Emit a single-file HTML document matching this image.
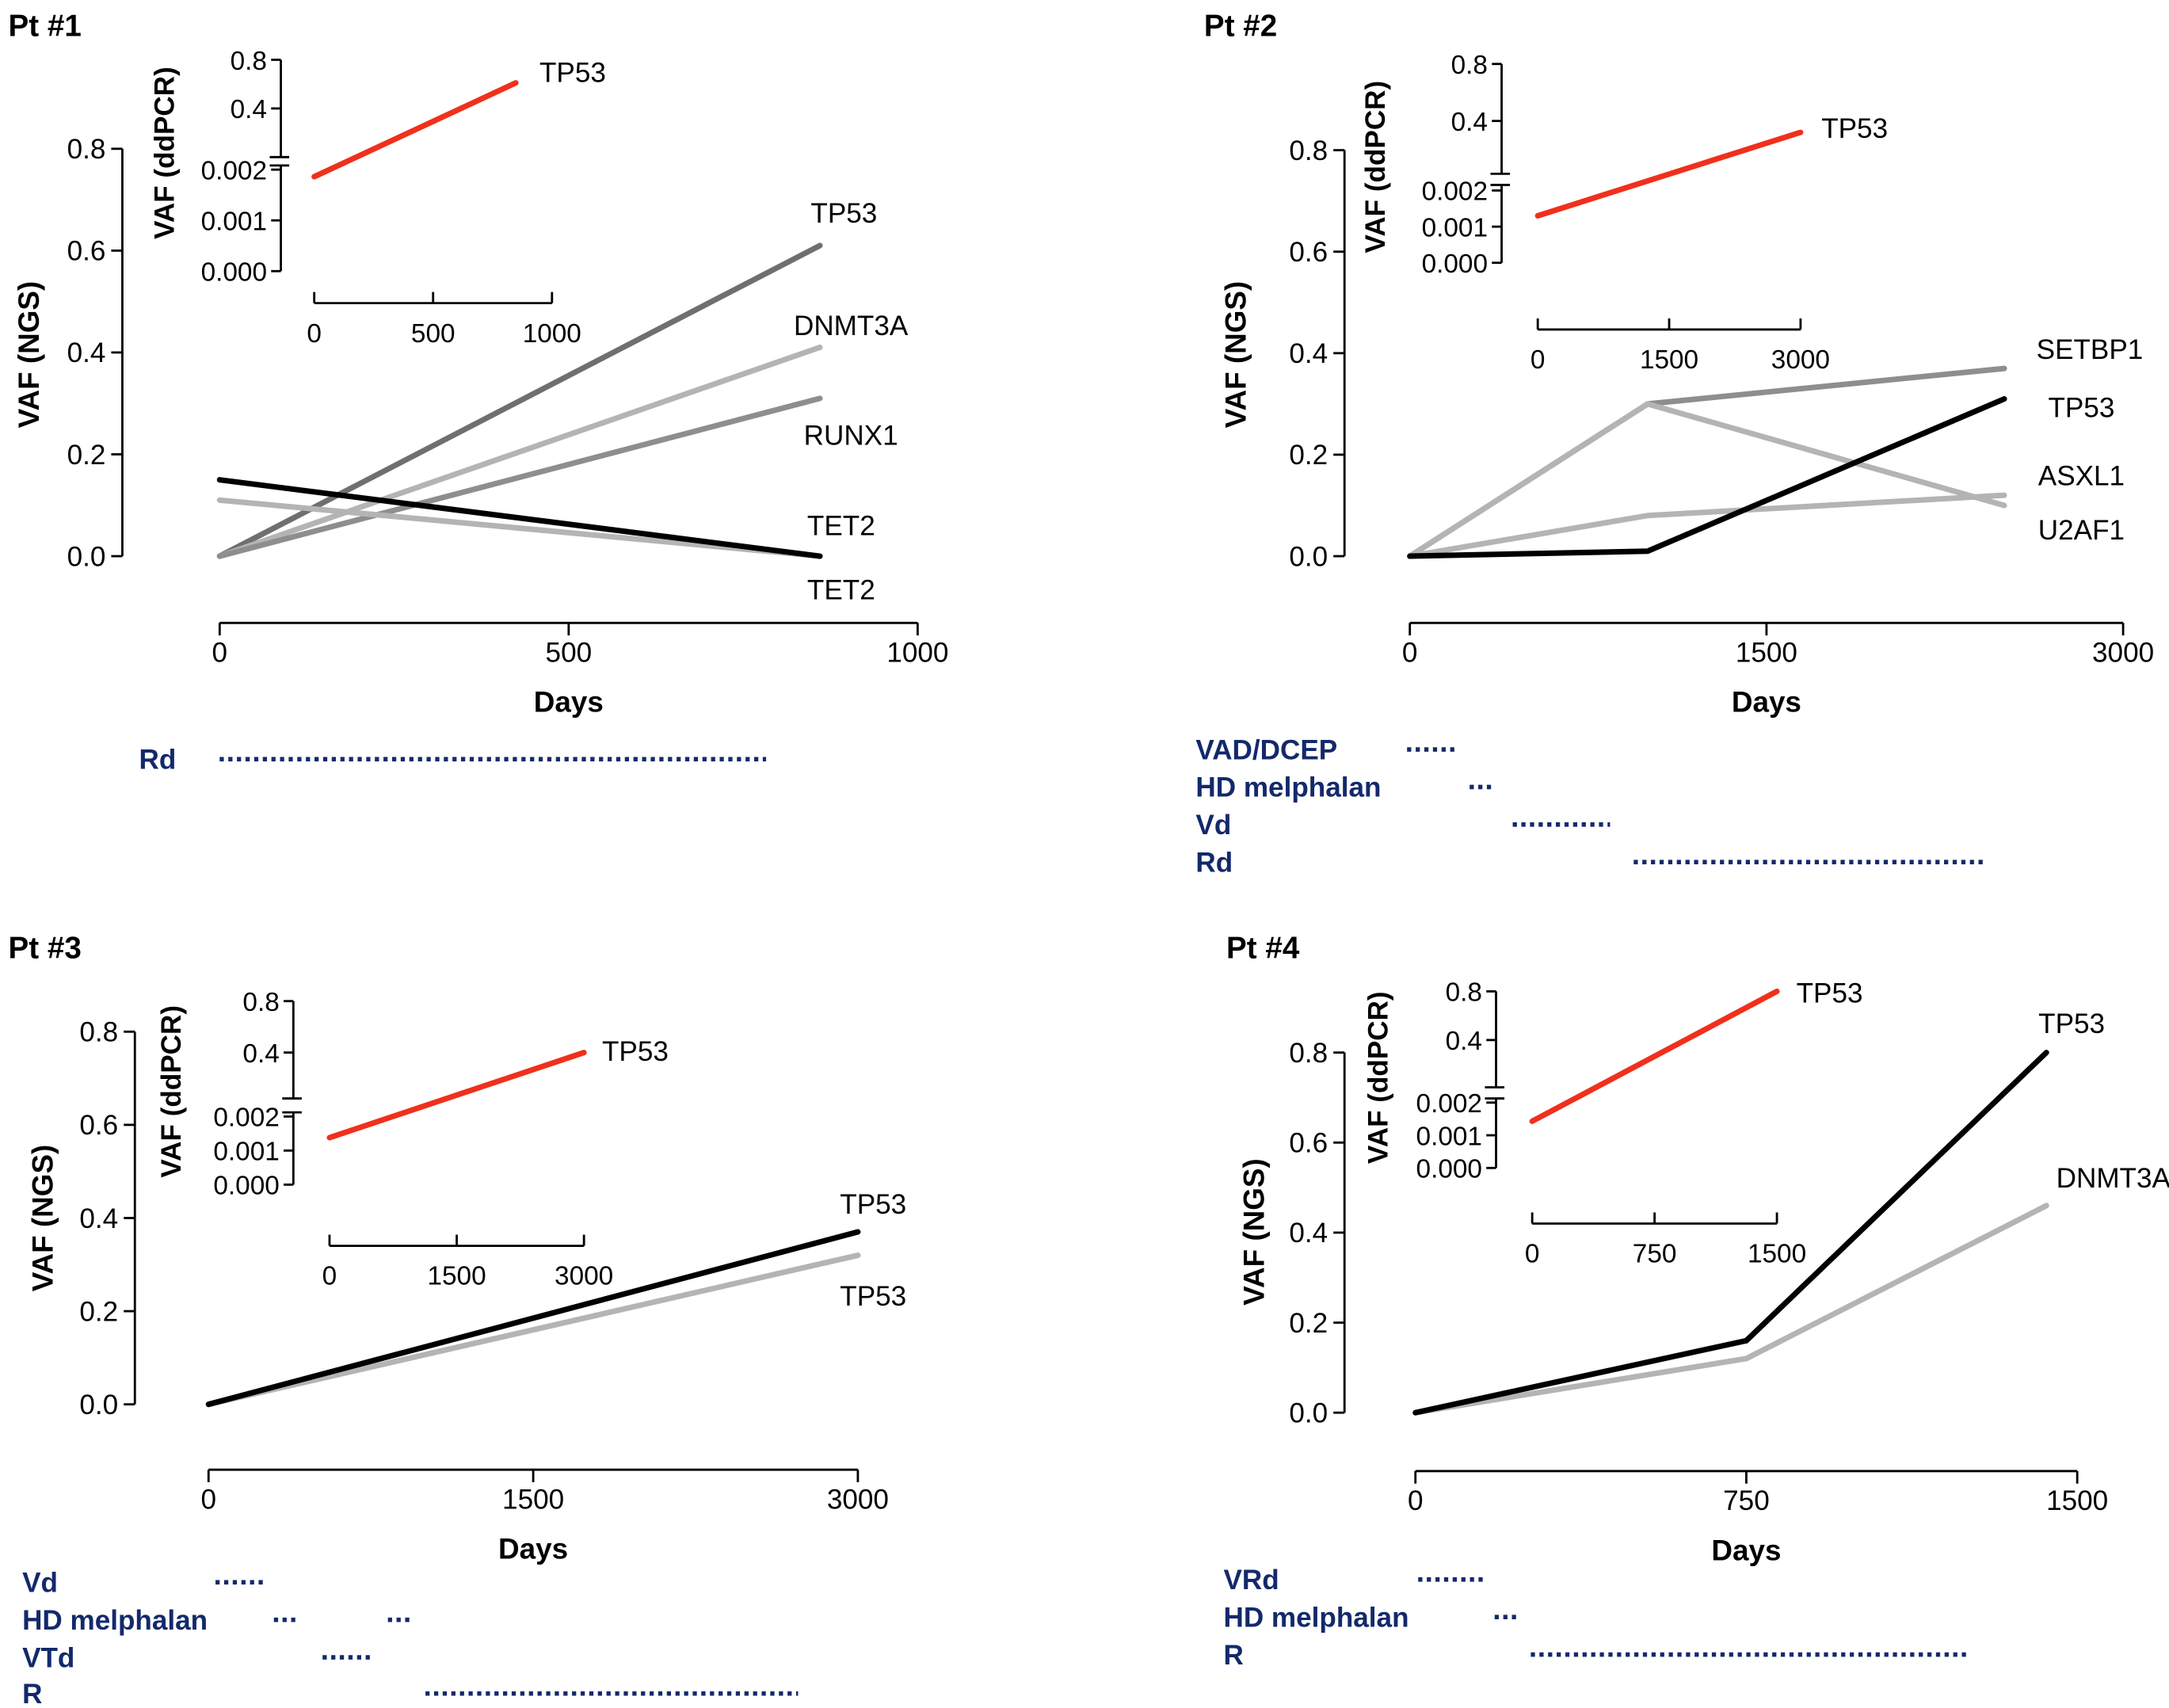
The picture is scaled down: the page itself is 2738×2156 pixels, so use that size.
<!DOCTYPE html>
<html><head><meta charset="utf-8">
<style>
html,body{margin:0;padding:0;background:#fff;}
svg{display:block;}
text{font-family:"Liberation Sans",Arial,sans-serif;}
</style></head>
<body>
<svg id="fig" width="2738" height="2156" viewBox="0 0 1560 1228.4" preserveAspectRatio="none" xmlns="http://www.w3.org/2000/svg"></svg>
<script>
// ---- Data ----
const p1Days = [0, 860];
const p1TP53 = [0, 0.61];
const p1DNMT3A = [0, 0.41];
const p1RUNX1 = [0, 0.31];
const p1TET2a = [0.15, 0.0];
const p1TET2b = [0.11, 0.0];
const p1InsetDays = [0, 848];
const p1InsetTP53 = [0.00186, 0.61];

const p2Days = [0, 1000, 2500];
const p2SETBP1 = [0, 0.30, 0.37];
const p2ASXL1 = [0, 0.30, 0.10];
const p2U2AF1 = [0, 0.08, 0.12];
const p2TP53 = [0, 0.01, 0.31];
const p2InsetDays = [0, 3000];
const p2InsetTP53 = [0.0013, 0.32];

const p3Days = [0, 3000];
const p3TP53a = [0, 0.37];
const p3TP53b = [0, 0.32];
const p3InsetDays = [0, 3000];
const p3InsetTP53 = [0.00138, 0.40];

const p4Days = [0, 750, 1430];
const p4TP53 = [0, 0.16, 0.80];
const p4DNMT3A = [0, 0.12, 0.46];
const p4InsetDays = [0, 1500];
const p4InsetTP53 = [0.00143, 0.80];

const yTicks = [0, 0.2, 0.4, 0.6, 0.8];
const yTickLabels = ["0.0", "0.2", "0.4", "0.6", "0.8"];
const insetLowTicks = [0, 0.001, 0.002];
const insetLowLabels = ["0.000", "0.001", "0.002"];
const insetHighTicks = [0.4, 0.8];
const insetHighLabels = ["0.4", "0.8"];

const NS = "http://www.w3.org/2000/svg";
const svg = document.getElementById("fig");
function el(tag, attrs, parent) {
  const e = document.createElementNS(NS, tag);
  for (const k in attrs) e.setAttribute(k, attrs[k]);
  (parent || svg).appendChild(e);
  return e;
}
function txt(s, x, y, opts, parent) {
  const t = el("text", {x: x, y: y, "font-size": opts.size || 20, "text-anchor": opts.anchor || "start", fill: opts.fill || "#000", "font-weight": opts.bold ? "bold" : "normal"}, parent);
  if (opts.rot) t.setAttribute("transform", "rotate(-90 " + x + " " + y + ")");
  t.textContent = s;
  return t;
}
function line(x1, y1, x2, y2, parent, w) {
  return el("line", {x1: x1, y1: y1, x2: x2, y2: y2, stroke: "#000", "stroke-width": w || 1.6}, parent);
}

function panel(cfg) {
  const g = el("g", {});
  
  
  const t = txt(cfg.title, cfg.titleX, cfg.titleY, {bold: true, size: 22}, g);
  
  
  const X = d => cfg.x0 + (d / cfg.xMax) * (cfg.x1 - cfg.x0);
  const Y = v => cfg.y0 + (v / 0.8) * (cfg.y08 - cfg.y0);
  const ya = el("g", {}, g);
  
  
  line(cfg.yax, Y(0), cfg.yax, Y(0.8), ya);
  yTicks.forEach((v, i) => {
    line(cfg.yax - 8, Y(v), cfg.yax, Y(v), ya);
    txt(yTickLabels[i], cfg.yax - 12, Y(v) + 7, {anchor: "end", size: 20}, ya);
  });
  const yt = txt("VAF (NGS)", cfg.ytX, cfg.ytY, {bold: true, size: 21, anchor: "middle", rot: true}, g);
  
  
  const xa = el("g", {}, g);
  
  
  line(cfg.x0, cfg.xay, cfg.x1, cfg.xay, xa);
  cfg.xTicks.forEach(d => {
    line(X(d), cfg.xay, X(d), cfg.xay + 9, xa);
    txt(String(d), X(d), cfg.xay + 28, {anchor: "middle", size: 20}, xa);
  });
  const xt = txt("Days", (cfg.x0 + cfg.x1) / 2, cfg.xay + 64, {bold: true, size: 21, anchor: "middle"}, g);
  
  
  cfg.series.forEach(s => {
    const pts = s.days.map((d, i) => X(d).toFixed(1) + "," + Y(s.vals[i]).toFixed(1)).join(" ");
    const pl = el("polyline", {points: pts, fill: "none", stroke: s.color, "stroke-width": 4, "stroke-linecap": "round", "stroke-linejoin": "round"}, g);
    
    
  });
  cfg.labels.forEach(l => {
    const lt = txt(l[0], l[1], l[2], {size: 20, anchor: "middle"}, g);
    
    
  });
  const ins = cfg.inset;
  const ig = el("g", {}, g);
  
  
  const IX = d => ins.x0 + (d / ins.xMax) * (ins.x1 - ins.x0);
  const IY = v => v <= 0.002 ? ins.yl0 + (v / 0.002) * (ins.yl2 - ins.yl0)
                             : ins.yh4 + ((v - 0.4) / 0.4) * (ins.yh8 - ins.yh4);
  line(ins.yax, ins.yl0, ins.yax, ins.lowTop, ig);
  line(ins.yax, ins.highBot, ins.yax, ins.yh8, ig);
  line(ins.yax - 8, ins.lowTop, ins.yax + 6, ins.lowTop, ig);
  line(ins.yax - 8, ins.highBot, ins.yax + 6, ins.highBot, ig);
  insetLowTicks.forEach((v, i) => {
    line(ins.yax - 7, IY(v), ins.yax, IY(v), ig);
    txt(insetLowLabels[i], ins.yax - 10, IY(v) + 7, {anchor: "end", size: 19}, ig);
  });
  insetHighTicks.forEach((v, i) => {
    line(ins.yax - 7, IY(v), ins.yax, IY(v), ig);
    txt(insetHighLabels[i], ins.yax - 10, IY(v) + 7, {anchor: "end", size: 19}, ig);
  });
  txt("VAF (ddPCR)", ins.ytX, ins.ytY, {bold: true, size: 20, anchor: "middle", rot: true}, ig);
  line(ins.x0, ins.xay, ins.x1, ins.xay, ig);
  ins.xTicks.forEach(d => {
    line(IX(d), ins.xay, IX(d), ins.xay - 8, ig);
    txt(String(d), IX(d), ins.xay + 28, {anchor: "middle", size: 19}, ig);
  });
  const rp = ins.days.map((d, i) => IX(d).toFixed(1) + "," + IY(ins.vals[i]).toFixed(1)).join(" ");
  const rl = el("polyline", {points: rp, fill: "none", stroke: "#f0301c", "stroke-width": 4, "stroke-linecap": "round"}, ig);
  
  
  txt("TP53", ins.labX, ins.labY, {size: 20}, ig);
  const tg = el("g", {}, g);
  
  
  cfg.treat.forEach(tr => {
    txt(tr.name, cfg.treatX, tr.y + 7, {bold: true, size: 20, fill: "#13296b"}, tg);
    tr.segs.forEach(sg => {
      el("line", {x1: sg[0], y1: tr.y, x2: sg[1], y2: tr.y, stroke: "#13296b", "stroke-width": 3.2, "stroke-dasharray": "3 3.2"}, tg);
    });
  });
}

panel({name: "panel-pt1", title: "Pt #1", titleX: 6, titleY: 26,
  yax: 88, y0: 400, y08: 107, x0: 158, x1: 660, xMax: 1000, xay: 448, xTicks: [0, 500, 1000],
  ytX: 28, ytY: 255,
  series: [
    {name: "line-tp53", days: p1Days, vals: p1TP53, color: "#6f6f6f"},
    {name: "line-dnmt3a", days: p1Days, vals: p1DNMT3A, color: "#b4b4b4"},
    {name: "line-runx1", days: p1Days, vals: p1RUNX1, color: "#8e8e8e"},
    {name: "line-tet2-light", days: p1Days, vals: p1TET2b, color: "#b4b4b4"},
    {name: "line-tet2-black", days: p1Days, vals: p1TET2a, color: "#000"}],
  labels: [["TP53", 607, 160], ["DNMT3A", 612, 241], ["RUNX1", 612, 320], ["TET2", 605, 385], ["TET2", 605, 431]],
  inset: {yax: 202, yl0: 195, yl2: 122, yh4: 78, yh8: 43, lowTop: 119, highBot: 113, ytX: 125, ytY: 110,
    x0: 226, x1: 397, xMax: 1000, xay: 218, xTicks: [0, 500, 1000], days: p1InsetDays, vals: p1InsetTP53, labX: 388, labY: 59},
  treatX: 100, treat: [{name: "Rd", y: 546, segs: [[158, 551]]}]
});

panel({name: "panel-pt2", title: "Pt #2", titleX: 866, titleY: 26,
  yax: 967, y0: 400, y08: 108, x0: 1014, x1: 1527, xMax: 3000, xay: 448, xTicks: [0, 1500, 3000],
  ytX: 896, ytY: 255,
  series: [
    {name: "line-setbp1", days: p2Days, vals: p2SETBP1, color: "#8e8e8e"},
    {name: "line-asxl1", days: p2Days, vals: p2ASXL1, color: "#b4b4b4"},
    {name: "line-u2af1", days: p2Days, vals: p2U2AF1, color: "#b4b4b4"},
    {name: "line-tp53", days: p2Days, vals: p2TP53, color: "#000"}],
  labels: [["SETBP1", 1503, 258], ["TP53", 1497, 300], ["ASXL1", 1497, 349], ["U2AF1", 1497, 388]],
  inset: {yax: 1080, yl0: 189, yl2: 137, yh4: 87, yh8: 46, lowTop: 133, highBot: 125, ytX: 996, ytY: 120,
    x0: 1106, x1: 1295, xMax: 3000, xay: 237, xTicks: [0, 1500, 3000], days: p2InsetDays, vals: p2InsetTP53, labX: 1310, labY: 99},
  treatX: 860, treat: [
    {name: "VAD/DCEP", y: 539, segs: [[1012, 1046]]},
    {name: "HD melphalan", y: 566, segs: [[1057, 1075]]},
    {name: "Vd", y: 593, segs: [[1088, 1158]]},
    {name: "Rd", y: 620, segs: [[1175, 1426]]}]
});

panel({name: "panel-pt3", title: "Pt #3", titleX: 6, titleY: 689,
  yax: 97, y0: 1010, y08: 742, x0: 150, x1: 617, xMax: 3000, xay: 1057, xTicks: [0, 1500, 3000],
  ytX: 38, ytY: 876,
  series: [
    {name: "line-tp53-light", days: p3Days, vals: p3TP53b, color: "#b4b4b4"},
    {name: "line-tp53-black", days: p3Days, vals: p3TP53a, color: "#000"}],
  labels: [["TP53", 628, 873], ["TP53", 628, 939]],
  inset: {yax: 211, yl0: 852, yl2: 803, yh4: 757, yh8: 720, lowTop: 800, highBot: 790, ytX: 130, ytY: 785,
    x0: 237, x1: 420, xMax: 3000, xay: 896, xTicks: [0, 1500, 3000], days: p3InsetDays, vals: p3InsetTP53, labX: 433, labY: 763},
  treatX: 16, treat: [
    {name: "Vd", y: 1138, segs: [[155, 190]]},
    {name: "HD melphalan", y: 1165, segs: [[197, 215], [279, 297]]},
    {name: "VTd", y: 1192, segs: [[232, 267]]},
    {name: "R", y: 1218, segs: [[306, 574]]}]
});

panel({name: "panel-pt4", title: "Pt #4", titleX: 882, titleY: 689,
  yax: 967, y0: 1016, y08: 757, x0: 1018, x1: 1494, xMax: 1500, xay: 1058, xTicks: [0, 750, 1500],
  ytX: 909, ytY: 886,
  series: [
    {name: "line-dnmt3a", days: p4Days, vals: p4DNMT3A, color: "#b4b4b4"},
    {name: "line-tp53", days: p4Days, vals: p4TP53, color: "#000"}],
  labels: [["TP53", 1490, 743], ["DNMT3A", 1520, 854]],
  inset: {yax: 1076, yl0: 840, yl2: 793, yh4: 748, yh8: 713, lowTop: 790, highBot: 782, ytX: 998, ytY: 775,
    x0: 1102, x1: 1278, xMax: 1500, xay: 880, xTicks: [0, 750, 1500], days: p4InsetDays, vals: p4InsetTP53, labX: 1292, labY: 721},
  treatX: 880, treat: [
    {name: "VRd", y: 1136, segs: [[1020, 1069]]},
    {name: "HD melphalan", y: 1163, segs: [[1075, 1093]]},
    {name: "R", y: 1190, segs: [[1101, 1414]]}]
});
</script>
</body></html>
